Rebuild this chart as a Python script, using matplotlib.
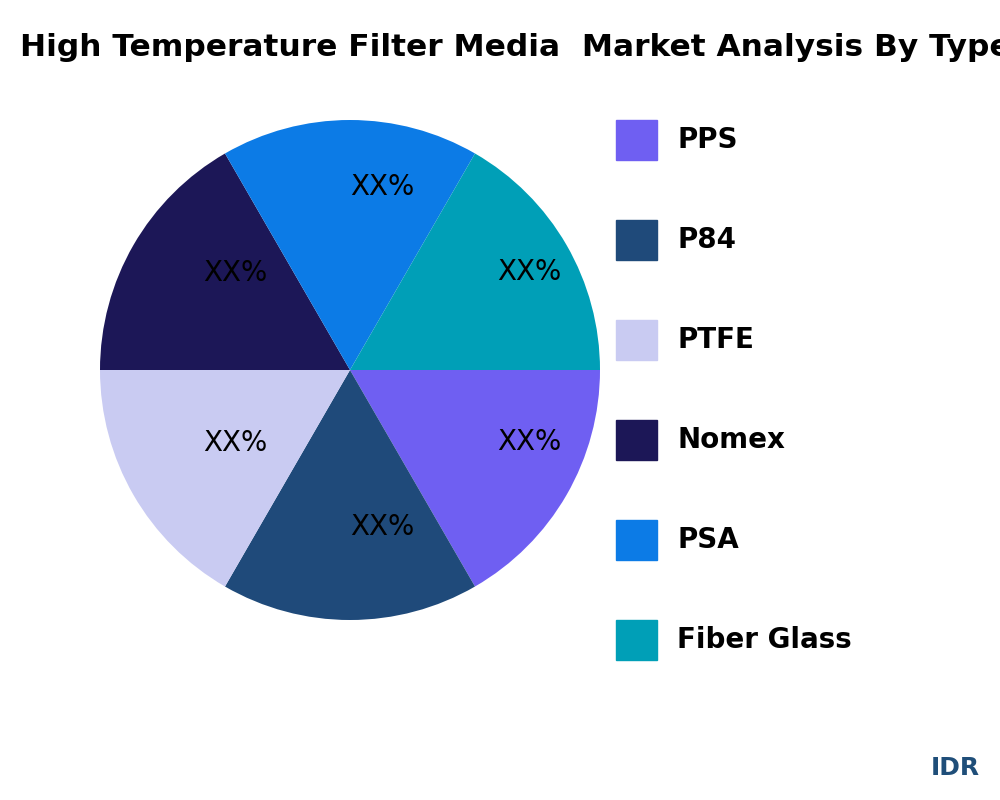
import matplotlib
matplotlib.use("Agg")
import matplotlib.pyplot as plt
from matplotlib.patches import Rectangle
import numpy as np

categories = ["PPS", "P84", "PTFE", "Nomex", "PSA", "Fiber Glass"]
values = [1, 1, 1, 1, 1, 1]
colors = ["#6f5ff2", "#1f4a7a", "#c9cbf2", "#1c1757", "#0c7be6", "#009fb7"]
pct_labels = ["XX%"] * 6

plt.rcParams['font.family'] = ['DejaVu Sans']
fig = plt.figure(figsize=(10, 8), dpi=100)
ax = fig.add_axes([0.1, 0.225, 0.5, 0.625])
wedges, _ = ax.pie(values, colors=colors, startangle=0, counterclock=False,
                   radius=1.0, wedgeprops=dict(linewidth=0))
for w, t in zip(wedges, pct_labels):
    ang = np.deg2rad((w.theta1 + w.theta2) / 2)
    ax.text(0.68 * np.cos(ang), 0.68 * np.sin(ang) + 0.05, t, ha='left', va='center',
            fontsize=20, color='black')
ax.set_xlim(-1, 1); ax.set_ylim(-1, 1)
ax.set_aspect('equal'); ax.axis('off')

fig.text(0.02, 0.94, "High Temperature Filter Media  Market Analysis By Type",
         fontsize=22.5, fontweight='bold', ha='left', va='center')

for i, (c, col) in enumerate(zip(categories, colors)):
    yc = 1 - (140 + 100 * i) / 800
    fig.add_artist(Rectangle((0.616, yc - 20 / 800), 0.041, 40 / 800,
                             transform=fig.transFigure, color=col))
    fig.text(0.677, yc, c, fontsize=20, fontweight='bold', ha='left', va='center')

fig.text(0.955, 1 - 768 / 800, "IDR", fontsize=18, fontweight='bold',
         color='#1f4e79', ha='center', va='center')
fig.savefig("out.png", dpi=100)
